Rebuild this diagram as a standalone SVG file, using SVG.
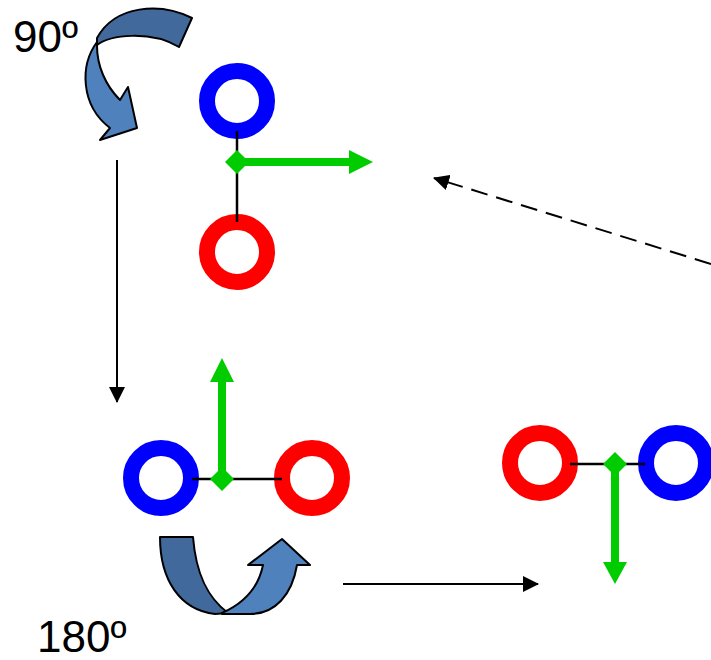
<svg xmlns="http://www.w3.org/2000/svg" width="711" height="660" viewBox="0 0 711 660">
<defs>
<marker id="ah" markerWidth="16" markerHeight="16" viewBox="0 0 16 16" refX="15" refY="8" orient="auto" markerUnits="userSpaceOnUse">
<path d="M0,0 L16,8 L0,16 Z" fill="#000"/>
</marker>
</defs>
<style>
.blue{fill:none;stroke:#0000ff;stroke-width:16}
.red{fill:none;stroke:#ff0000;stroke-width:16}
.bond{stroke:#000;stroke-width:2.5}
.g{fill:#00cc00}
.gl{stroke:#00cc00;stroke-width:8}
.conn{stroke:#000;stroke-width:2;fill:none}
.dk{fill:#41699c;stroke:#000;stroke-width:2;stroke-linejoin:round}
.lt{fill:#4f81bd;stroke:#000;stroke-width:2;stroke-linejoin:round}
.lbl{font-family:"Liberation Sans",Arial,sans-serif;font-size:44px;fill:#000}
</style>
<g id="top">
<circle class="blue" cx="237" cy="101" r="30"/>
<circle class="red" cx="237" cy="252" r="30"/>
<line class="bond" x1="237" y1="131" x2="237" y2="222"/>
<line class="gl" x1="237" y1="162" x2="352" y2="162"/>
<path class="g" d="M349,150 L373,162 L349,174 Z"/>
<path class="g" d="M237,150 L249,162 L237,174 L225,162 Z"/>
</g>
<g id="left">
<circle class="blue" cx="161" cy="478" r="30"/>
<circle class="red" cx="312" cy="478" r="30"/>
<line class="bond" x1="192" y1="479" x2="282" y2="479"/>
<line class="gl" x1="222" y1="479" x2="222" y2="380"/>
<path class="g" d="M210,382 L222,358 L234,382 Z"/>
<path class="g" d="M222,467 L234,479 L222,491 L210,479 Z"/>
</g>
<g id="right">
<circle class="red" cx="540" cy="463" r="30"/>
<circle class="blue" cx="676" cy="463" r="30"/>
<line class="bond" x1="570" y1="464" x2="645" y2="464"/>
<line class="gl" x1="615" y1="464" x2="615" y2="564"/>
<path class="g" d="M603,562 L615,584 L627,562 Z"/>
<path class="g" d="M615,452 L627,464 L615,476 L603,464 Z"/>
</g>
<g id="rot90">
<path class="dk" d="M192,18 C160,2 115,5 97,38 L97,45 C110,35 150,30 179,47 Z"/>
<path class="lt" d="M97,42 C80,65 80,105 110,128 L100,140 L137,128 L128,87 L120,100 C105,85 97,65 97,46 Z"/>
<text class="lbl" x="13" y="52">90º</text>
</g>
<g id="rot180">
<path class="dk" d="M160,537 C160,580 180,610 215,614 L228,613 C208,598 196,575 193,537 Z"/>
<path class="lt" d="M222,613 C240,605 258,590 263,565 L248,565 L282,539 L310,565 L297,565 C292,595 275,614 250,614 L222,614 Z"/>
<text class="lbl" x="37" y="652">180º</text>
</g>
<g id="connectors">
<line class="conn" x1="117" y1="160" x2="117" y2="402" marker-end="url(#ah)"/>
<line class="conn" x1="343" y1="584" x2="538" y2="584" marker-end="url(#ah)"/>
<line class="conn" x1="711" y1="264" x2="434" y2="178" stroke-width="2.5" stroke-dasharray="17,9" marker-end="url(#ah)"/>
</g>
</svg>
